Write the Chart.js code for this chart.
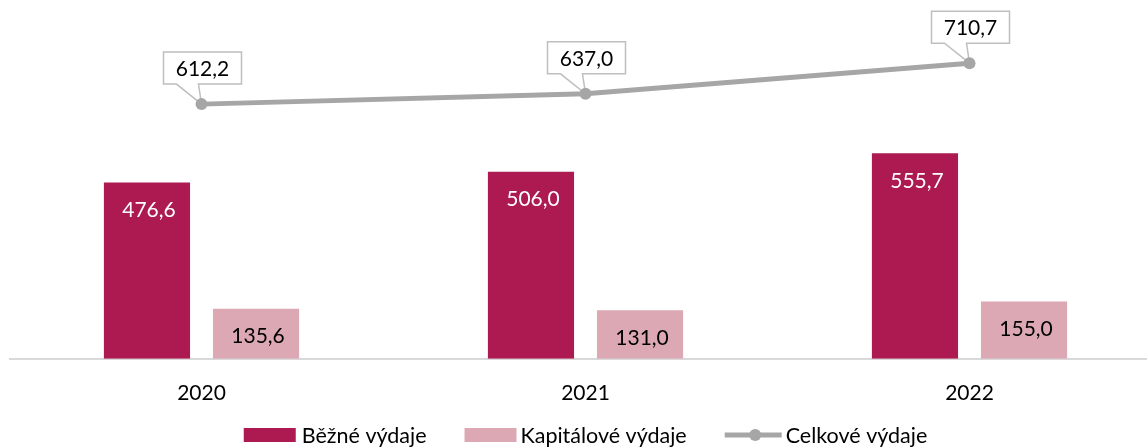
<!DOCTYPE html>
<html lang="cs">
<head>
<meta charset="utf-8">
<title>Výdaje 2020–2022</title>
<script src="https://cdn.jsdelivr.net/npm/chart.js@4/dist/chart.umd.min.js"></script>
<style>
  html, body { margin: 0; padding: 0; background: #ffffff; overflow: hidden; }
  #wrap { position: relative; width: 1171px; height: 447px; }
</style>
</head>
<body>
<div id="wrap"><canvas id="chart" width="1171" height="447"></canvas></div>
<script>
// Years on the category axis
const years = ['2020', '2021', '2022'];
// Current expenditure
const bezneVydaje = [476.6, 506.0, 555.7];
// Capital expenditure
const kapitaloveVydaje = [135.6, 131.0, 155.0];
// Total expenditure (plotted as a line on its own axis)
const celkoveVydaje = [612.2, 637.0, 710.7];

const FONT = 'Lato, "Open Sans", sans-serif';
const COL_DARK = '#ad1a52';
const COL_LIGHT = '#dca8b4';
const COL_LINE = '#a6a6a6';

const fmt = v => v.toFixed(1).replace('.', ',');

// Value labels for bars and callout boxes for the total line
const valueLabels = {
  id: 'valueLabels',
  beforeDatasetsDraw(chart) {
    const ctx = chart.ctx;
    const meta = chart.getDatasetMeta(2);
    ctx.save();
    ctx.font = '21px ' + FONT;
    meta.data.forEach((pt, i) => {
      const px = pt.x, py = pt.y;
      const w = 78, h = 32;
      const left = px - 38, bottom = py - 20, top = bottom - h;
      ctx.beginPath();
      ctx.moveTo(left, top);
      ctx.lineTo(left + w, top);
      ctx.lineTo(left + w, bottom);
      ctx.lineTo(left + 35, bottom);
      ctx.lineTo(px, py);
      ctx.lineTo(left + 13, bottom);
      ctx.lineTo(left, bottom);
      ctx.closePath();
      ctx.fillStyle = '#ffffff';
      ctx.fill();
      ctx.lineWidth = 1.5;
      ctx.strokeStyle = '#bfbfbf';
      ctx.stroke();
      ctx.fillStyle = '#000000';
      ctx.textAlign = 'center';
      ctx.textBaseline = 'middle';
      ctx.fillText(fmt(celkoveVydaje[i]), left + w / 2, top + h / 2 + 1);
    });
    ctx.restore();
  },
  afterDatasetsDraw(chart) {
    const ctx = chart.ctx;
    ctx.save();
    ctx.font = '21px ' + FONT;
    ctx.textAlign = 'center';
    ctx.textBaseline = 'middle';
    [0, 1].forEach(di => {
      const meta = chart.getDatasetMeta(di);
      const vals = chart.data.datasets[di].data;
      meta.data.forEach((bar, i) => {
        ctx.fillStyle = di === 0 ? '#ffffff' : '#000000';
        ctx.fillText(fmt(vals[i]), bar.x + 2, bar.y + 28);
      });
    });
    ctx.restore();
  },
  afterDraw(chart) {
    // Legend along the bottom edge
    const ctx = chart.ctx;
    const area = chart.chartArea;
    ctx.save();
    ctx.font = '21.5px ' + FONT;
    ctx.textBaseline = 'middle';
    ctx.textAlign = 'left';
    const items = [
      { text: 'Běžné výdaje', kind: 'box', color: COL_DARK, sw: 52, gap: 6 },
      { text: 'Kapitálové výdaje', kind: 'box', color: COL_LIGHT, sw: 52, gap: 4 },
      { text: 'Celkové výdaje', kind: 'line', color: COL_LINE, sw: 57, gap: 4 }
    ];
    const spacing = 38;
    let total = 0;
    items.forEach((it, k) => {
      it.tw = ctx.measureText(it.text).width;
      total += it.sw + it.gap + it.tw + (k ? spacing : 0);
    });
    const cy = 435;
    let x = (area.left + area.right) / 2 - total / 2;
    items.forEach(it => {
      if (it.kind === 'box') {
        ctx.fillStyle = it.color;
        ctx.fillRect(x, cy - 7, it.sw, 14);
      } else {
        ctx.strokeStyle = it.color;
        ctx.lineWidth = 5;
        ctx.beginPath();
        ctx.moveTo(x, cy);
        ctx.lineTo(x + it.sw, cy);
        ctx.stroke();
        ctx.fillStyle = it.color;
        ctx.beginPath();
        ctx.arc(x + it.sw / 2 + 2, cy, 6, 0, Math.PI * 2);
        ctx.fill();
      }
      ctx.fillStyle = '#000000';
      ctx.fillText(it.text, x + it.sw + it.gap, cy + 1);
      x += it.sw + it.gap + it.tw + spacing;
    });
    ctx.restore();
  }
};

new Chart(document.getElementById('chart'), {
  data: {
    labels: years,
    datasets: [
      {
        type: 'bar',
        label: 'Běžné výdaje',
        data: bezneVydaje,
        backgroundColor: COL_DARK,
        yAxisID: 'y',
        categoryPercentage: 0.568,
        barPercentage: 0.79,
        order: 2
      },
      {
        type: 'bar',
        label: 'Kapitálové výdaje',
        data: kapitaloveVydaje,
        backgroundColor: COL_LIGHT,
        yAxisID: 'y',
        categoryPercentage: 0.568,
        barPercentage: 0.79,
        order: 2
      },
      {
        type: 'line',
        label: 'Celkové výdaje',
        data: celkoveVydaje,
        borderColor: COL_LINE,
        backgroundColor: COL_LINE,
        borderWidth: 5,
        pointRadius: 6,
        pointBackgroundColor: COL_LINE,
        pointBorderWidth: 0,
        tension: 0,
        yAxisID: 'y1',
        order: 1
      }
    ]
  },
  options: {
    responsive: false,
    animation: false,
    layout: { padding: { left: 9.5, right: 9.5, top: 26, bottom: 19 } },
    plugins: {
      legend: { display: false },
      tooltip: { enabled: false }
    },
    scales: {
      x: {
        offset: true,
        grid: { display: false, drawTicks: false },
        border: { display: true, color: '#d9d9d9', width: 2 },
        ticks: {
          color: '#000000',
          font: { family: FONT, size: 21 },
          padding: 22
        }
      },
      y: {
        display: false,
        min: 0,
        max: 900
      },
      y1: {
        display: false,
        min: 0,
        max: 800
      }
    }
  },
  plugins: [valueLabels]
});
</script>
</body>
</html>
